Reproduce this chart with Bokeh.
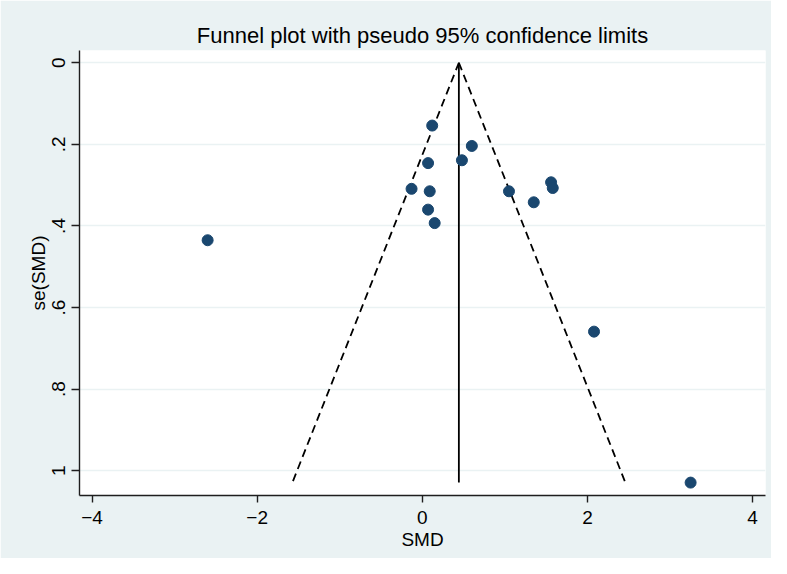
from bokeh.plotting import figure
from bokeh.models import Range1d, FixedTicker, ColumnDataSource
from bokeh.embed import file_html
from bokeh.resources import INLINE

# ---- data ----
smd = [0.12, 0.60, 0.07, 0.48, -0.13, 0.09, 1.05, 1.56, 1.58, 1.35,
       0.07, 0.15, -2.60, 2.08, 3.25]
se_smd = [0.154, 0.204, 0.246, 0.239, 0.309, 0.315, 0.315, 0.293, 0.307, 0.342,
          0.360, 0.393, 0.435, 0.659, 1.029]
pooled_smd = 0.443
z95 = 1.96

x_ticks = [-4, -2, 0, 2, 4]
y_ticks = [0, 0.2, 0.4, 0.6, 0.8, 1]
y_tick_labels = ["0", ".2", ".4", ".6", ".8", "1"]

title_text = "Funnel plot with pseudo 95% confidence limits"
x_label = "SMD"
y_label = "se(SMD)"

FONT = "Liberation Sans"
BG = "#EAF2F3"
NAVY = "#1a476f"

p = figure(width=771, height=558, output_backend="svg", toolbar_location=None,
           x_range=Range1d(-4.152, 4.157), y_range=Range1d(1.0606, -0.030),
           min_border_left=79, min_border_right=6, min_border_top=50, min_border_bottom=63,
           background_fill_color="white", border_fill_color=BG, outline_line_color=None)

p.title.text = title_text
p.title.align = "center"
p.title.text_font = FONT
p.title.text_font_size = "22px"
p.title.text_font_style = "normal"
p.title.text_color = "#000000"
p.title.standoff = 6

# axes
for ax in (p.xaxis[0], p.yaxis[0]):
    ax.axis_line_color = "#1e1e1e"
    ax.axis_line_width = 1.4
    ax.major_tick_line_color = "#1e1e1e"
    ax.major_tick_line_width = 1.4
    ax.major_tick_in = 0
    ax.minor_tick_line_color = None
    ax.major_label_text_font = FONT
    ax.major_label_text_font_size = "19px"
    ax.major_label_text_color = "#000000"
    ax.axis_label_text_font = FONT
    ax.axis_label_text_font_size = "19px"
    ax.axis_label_text_font_style = "normal"
    ax.axis_label_text_color = "#000000"

p.xaxis.ticker = FixedTicker(ticks=x_ticks)
p.xaxis.major_tick_out = 7
p.xaxis.major_label_standoff = 8
p.xaxis.axis_label = x_label
p.xaxis.axis_label_standoff = 2

p.yaxis.ticker = FixedTicker(ticks=y_ticks)
p.yaxis.major_label_overrides = {t: l for t, l in zip(y_ticks, y_tick_labels)}
p.yaxis.major_label_orientation = "parallel"
p.yaxis.major_tick_out = 8
p.yaxis.major_label_standoff = 6
p.yaxis.axis_label = y_label
p.yaxis.axis_label_standoff = 1

p.xgrid.visible = False
p.ygrid.ticker = FixedTicker(ticks=y_ticks)
p.ygrid.grid_line_color = BG
p.ygrid.grid_line_width = 1.5

# funnel lines derived from pooled estimate and max se
se_max = max(se_smd)
p.line([pooled_smd, pooled_smd - z95 * se_max], [0, se_max],
       line_color="black", line_width=1.8, line_dash="8 5")
p.line([pooled_smd, pooled_smd + z95 * se_max], [0, se_max],
       line_color="black", line_width=1.8, line_dash="8 5")
p.line([pooled_smd, pooled_smd], [0, se_max], line_color="black", line_width=1.8)

src = ColumnDataSource(data=dict(x=smd, y=se_smd))
p.scatter("x", "y", source=src, size=11, fill_color=NAVY, line_color=NAVY)

open("out.html", "w").write(file_html(p, INLINE))
